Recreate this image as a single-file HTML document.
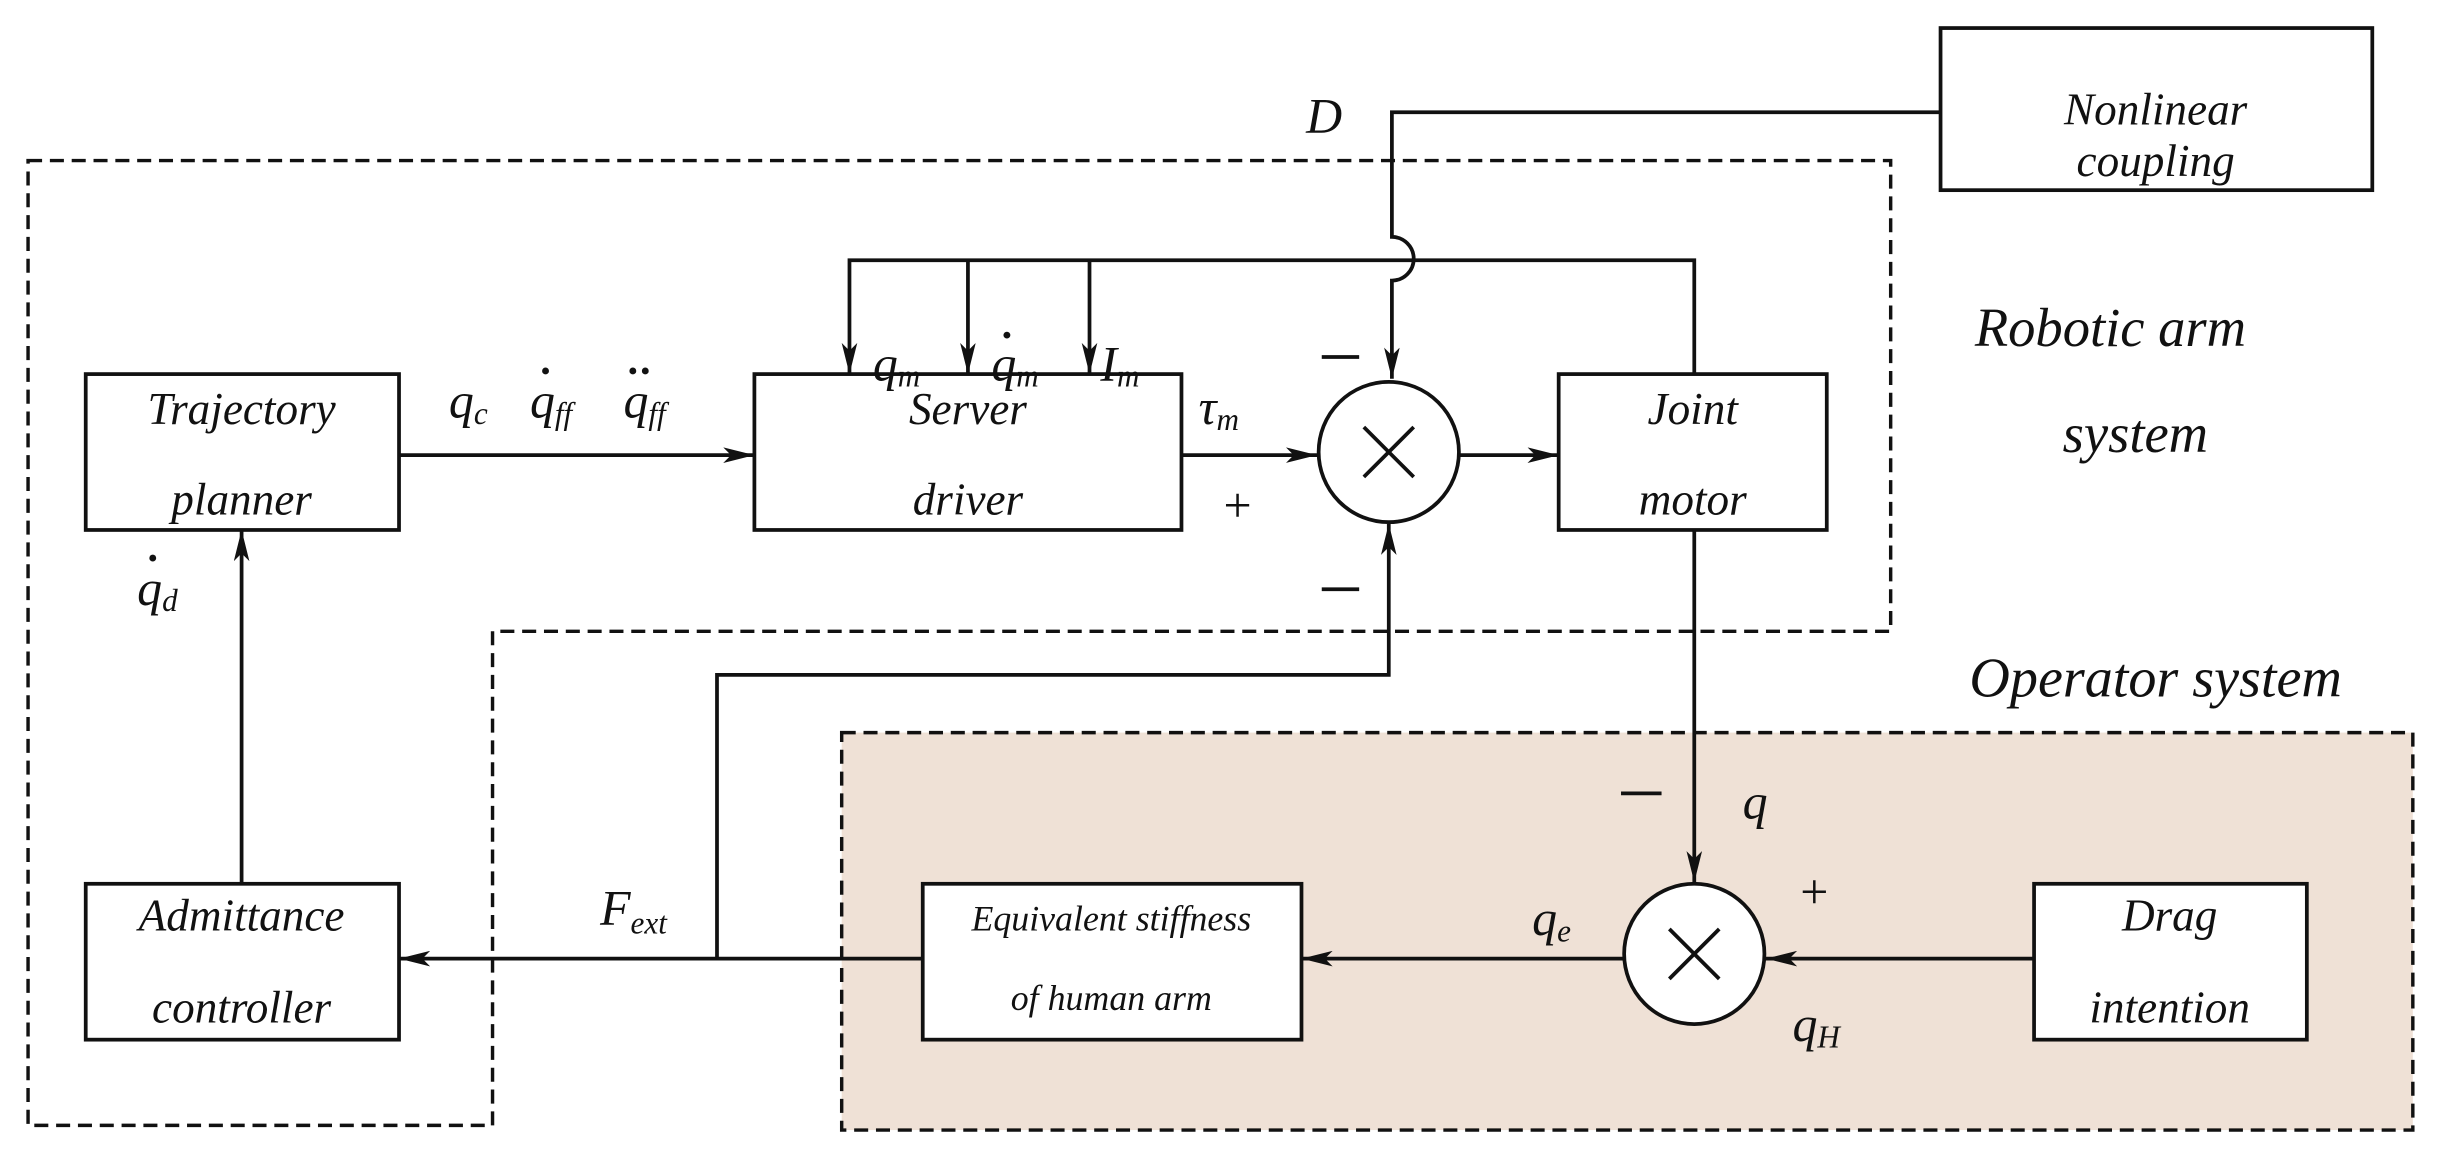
<!DOCTYPE html>
<html><head><meta charset="utf-8"><style>
html,body{margin:0;padding:0;background:#fff;}
svg{display:block;}
text{font-family:"Liberation Serif",serif;font-style:italic;fill:#111;}
</style></head><body>
<svg width="2444" height="1160" viewBox="0 0 1568 744.2" preserveAspectRatio="none" xmlns="http://www.w3.org/2000/svg">
<defs>
<marker id="a" viewBox="0 0 20 10" refX="20" refY="5" markerWidth="20" markerHeight="10" markerUnits="userSpaceOnUse" orient="auto">
<path d="M0,0 L20,5 L0,10 L5,5 Z" fill="#111"/></marker>
</defs>
<rect x="0" y="0" width="1568" height="745" fill="#fff"/>
<rect x="540" y="470" width="1008" height="255" fill="#efe1d6" stroke="#111" stroke-width="2.2" stroke-dasharray="9,5"/>
<path d="M18,103 H1213 V405 H316 V722 H18 Z" fill="none" stroke="#111" stroke-width="2.2" stroke-dasharray="9,5"/>
<g fill="#fff" stroke="#111" stroke-width="2.4">
<rect x="1245" y="18" width="277" height="104"/>
<rect x="55" y="240" width="201" height="100"/>
<rect x="484" y="240" width="274" height="100"/>
<rect x="1000" y="240" width="172" height="100"/>
<rect x="55" y="567" width="201" height="100"/>
<rect x="592" y="567" width="243" height="100"/>
<rect x="1305" y="567" width="175" height="100"/>
<circle cx="891" cy="290" r="45"/>
<circle cx="1087" cy="612" r="45"/>
</g>
<g stroke="#111" stroke-width="2.4">
<line x1="875" y1="274" x2="907" y2="306"/><line x1="907" y1="274" x2="875" y2="306"/>
<line x1="1071" y1="596" x2="1103" y2="628"/><line x1="1103" y1="596" x2="1071" y2="628"/>
<line x1="848" y1="229" x2="872" y2="229"/>
<line x1="848" y1="378" x2="872" y2="378"/>
<line x1="1040" y1="509" x2="1066" y2="509"/>
</g>
<g fill="none" stroke="#111" stroke-width="2.4">
<path d="M1245,72 H893 V152 A14,14 0 0 1 893,180 V243" marker-end="url(#a)"/>
<path d="M1087,240 V167 H545 V240" marker-end="url(#a)"/>
<path d="M621,167 V240" marker-end="url(#a)"/>
<path d="M699,167 V240" marker-end="url(#a)"/>
<path d="M256,292 H484" marker-end="url(#a)"/>
<path d="M758,292 H845" marker-end="url(#a)"/>
<path d="M936,292 H1000" marker-end="url(#a)"/>
<path d="M1087,340 V566" marker-end="url(#a)"/>
<path d="M1305,615 H1133" marker-end="url(#a)"/>
<path d="M1042,615 H835" marker-end="url(#a)"/>
<path d="M592,615 H256" marker-end="url(#a)"/>
<path d="M460,615 V433 H891 V336" marker-end="url(#a)"/>
<path d="M155,567 V340" marker-end="url(#a)"/>
</g>
<g font-size="29" text-anchor="middle">
<text x="1383" y="80">Nonlinear</text><text x="1383" y="113">coupling</text>
<text x="155" y="272">Trajectory</text><text x="155" y="330">planner</text>
<text x="621" y="272">Server</text><text x="621" y="330">driver</text>
<text x="1086" y="272">Joint</text><text x="1086" y="330">motor</text>
<text x="155" y="597">Admittance</text><text x="155" y="656">controller</text>
<text x="1392" y="597">Drag</text><text x="1392" y="656">intention</text>
<text x="1354" y="222" font-size="35">Robotic arm</text><text x="1370" y="290" font-size="35">system</text>
<text x="1383" y="447" font-size="36">Operator system</text>
</g>
<g font-size="23" text-anchor="middle">
<text x="713" y="597">Equivalent stiffness</text><text x="713" y="648">of human arm</text>
</g>
<g font-size="32">
<text x="838" y="85">D</text>
<text x="785" y="335" style="font-style:normal">+</text>
<text x="1155" y="583" style="font-style:normal">+</text>
</g>
<g font-size="32">
<text x="560" y="244">q<tspan font-size="20" dy="4">m</tspan></text>
<text x="636" y="244">q<tspan font-size="20" dy="4">m</tspan></text>
<text x="706" y="244">I<tspan font-size="20" dy="4">m</tspan></text>
<text x="769" y="272">τ<tspan font-size="20" dy="4">m</tspan></text>
<text x="288" y="268">q<tspan font-size="20" dy="4">c</tspan></text>
<text x="340" y="268">q<tspan font-size="20" dy="4">ff</tspan></text>
<text x="400" y="268">q<tspan font-size="20" dy="4">ff</tspan></text>
<text x="88" y="388">q<tspan font-size="20" dy="4">d</tspan></text>
<text x="1118" y="525">q</text>
<text x="983" y="600">q<tspan font-size="20" dy="4">e</tspan></text>
<text x="1150" y="668">q<tspan font-size="20" dy="4">H</tspan></text>
<text x="385" y="593">F<tspan font-size="20" dy="6">ext</tspan></text>
</g>
<g fill="#111">
<circle cx="646" cy="215" r="2.2"/>
<circle cx="350" cy="238" r="2.2"/>
<circle cx="406" cy="238" r="2.2"/><circle cx="414" cy="238" r="2.2"/>
<circle cx="98" cy="358" r="2.2"/>
</g>
</svg>
</body></html>
